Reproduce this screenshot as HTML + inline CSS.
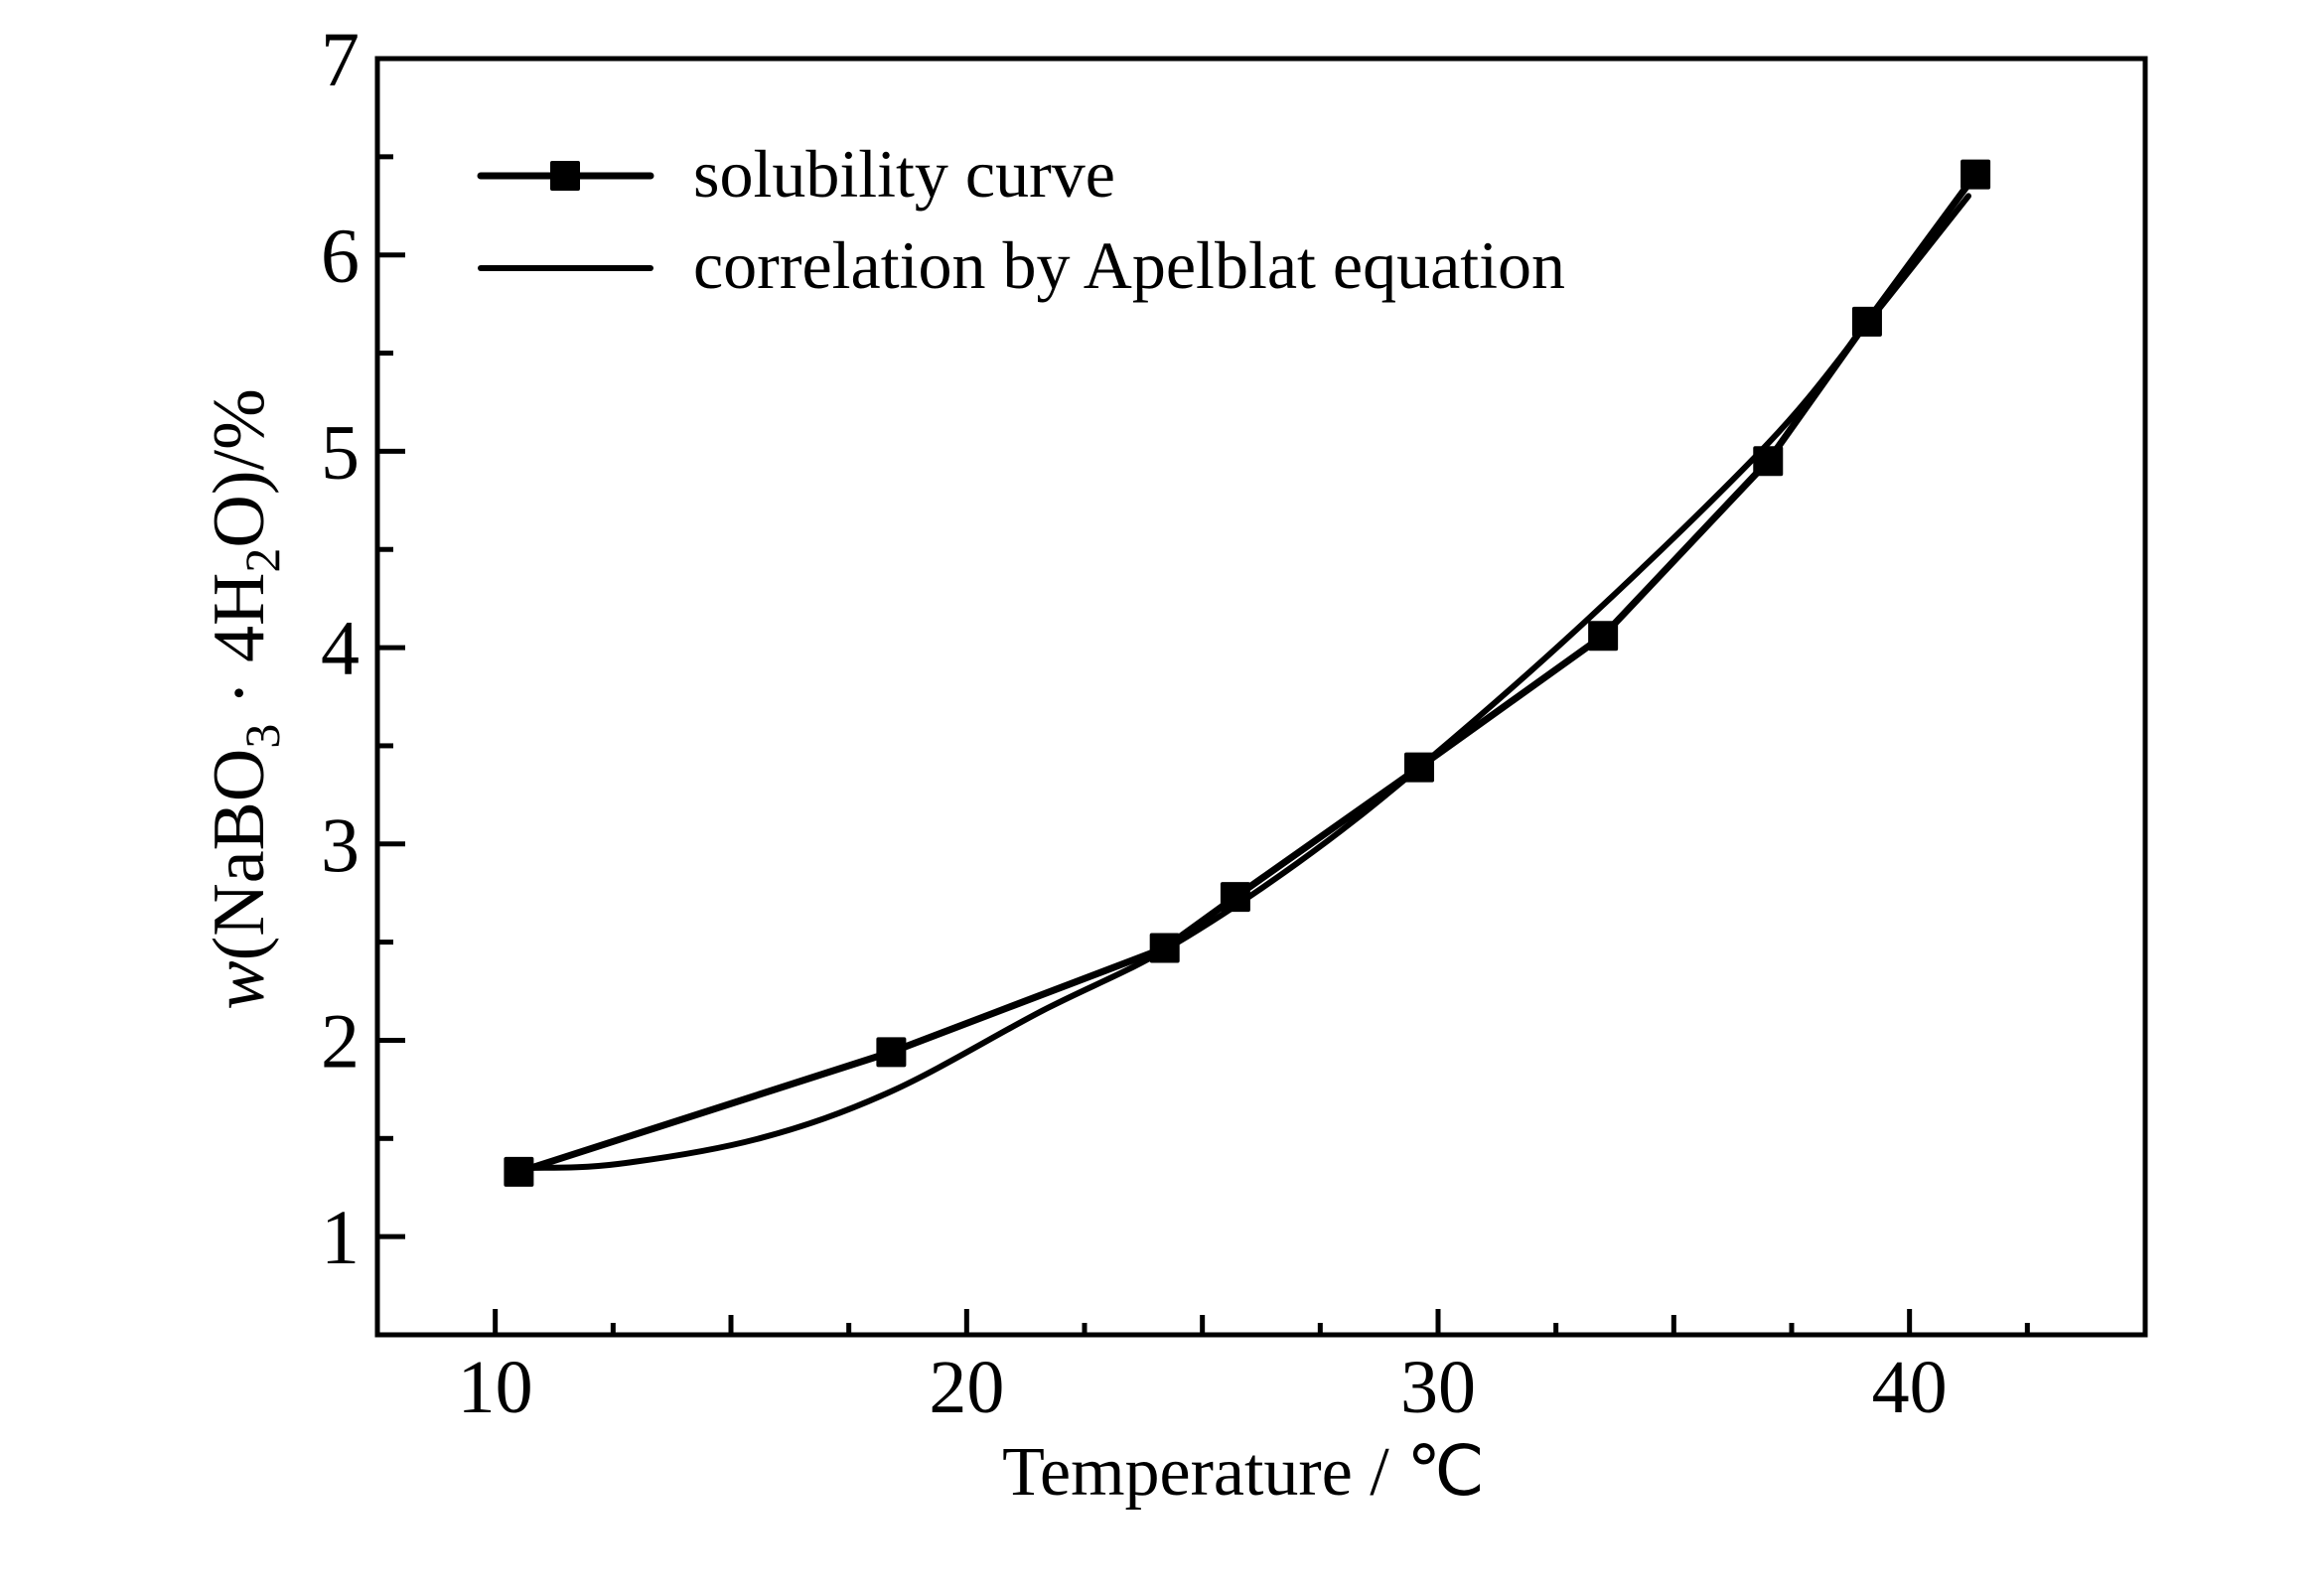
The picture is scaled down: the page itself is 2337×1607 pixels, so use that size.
<!DOCTYPE html>
<html><head><meta charset="utf-8"><style>
html,body{margin:0;padding:0;background:#fff;}
svg{display:block;}
text{font-family:"Liberation Serif","Times New Roman",serif;fill:#000;}
</style></head><body>
<svg id="chart" width="2337" height="1607" viewBox="0 0 2337 1607" xmlns="http://www.w3.org/2000/svg">
<g id="axes"></g>
<g id="series"></g>
<g id="legend">
  <line x1="484" y1="177" x2="554" y2="177" stroke="#000" stroke-width="7" stroke-linecap="round"/>
  <line x1="584" y1="177" x2="655" y2="177" stroke="#000" stroke-width="7" stroke-linecap="round"/>
  <rect x="554" y="162" width="30" height="30" rx="2" fill="#000"/>
  <text x="698" y="198" font-size="68">solubility curve</text>
  <line x1="484" y1="270" x2="655" y2="270" stroke="#000" stroke-width="6" stroke-linecap="round"/>
  <text x="698" y="290" font-size="68">correlation by Apelblat equation</text>
</g>
<text x="1252" y="1505" font-size="70" text-anchor="middle">Temperature / ℃</text>
<text transform="translate(265,704) rotate(-90)" font-size="74" text-anchor="middle"><tspan font-style="italic">w</tspan>(NaBO<tspan font-size="50" dy="16">3</tspan><tspan dy="-16"> · 4H</tspan><tspan font-size="50" dy="16">2</tspan><tspan dy="-16">O)/%</tspan></text>
</svg>
<script>
const tempC = [10.5, 18.4, 24.2, 25.7, 29.6, 33.5, 37.0, 39.1, 41.4];
const solubility = [1.33, 1.94, 2.47, 2.73, 3.39, 4.06, 4.95, 5.66, 6.41];
const fitT = [10.7, 12.6, 15.6, 18.4, 21.6, 24.2, 27.0, 29.6, 33.2, 37.0, 39.1, 41.25];
const fitW = [1.35, 1.37, 1.50, 1.74, 2.15, 2.46, 2.90, 3.39, 4.15, 5.04, 5.65, 6.30];
const xTicks = [10, 20, 30, 40];
const xTickLabels = ["10", "20", "30", "40"];
const yTicks = [1, 2, 3, 4, 5, 6, 7];
const yTickLabels = ["1", "2", "3", "4", "5", "6", "7"];

const L=380,R=2160,T=59,B=1344,x0=7.5,x1=45,y0=0.5,y1=7;
const sx=v=>L+(v-x0)/(x1-x0)*(R-L);
const sy=v=>B-(v-y0)/(y1-y0)*(B-T);
const NS="http://www.w3.org/2000/svg";
function mk(tag,attrs,parent){const e=document.createElementNS(NS,tag);for(const k in attrs)e.setAttribute(k,attrs[k]);parent.appendChild(e);return e;}
const axes=document.getElementById('axes'), series=document.getElementById('series');

const frame=mk('rect',{x:L,y:T,width:R-L,height:B-T,fill:'none',stroke:'#000','stroke-width':5},axes);



for(let v=7.5; v<=45.01; v+=2.5){
  if(v<=x0+0.01||v>=x1-0.01) continue;
  const major=xTicks.includes(v), mid=(v%5===0);
  const len=major?26:(mid?20:12);
  const t=mk('line',{x1:sx(v),x2:sx(v),y1:B,y2:B-len,stroke:'#000','stroke-width':5},axes);
  
  
}
xTicks.forEach((v,i)=>{
  const t=mk('text',{x:sx(v),y:1422,'font-size':76,'text-anchor':'middle'},axes);
  t.textContent=xTickLabels[i];
  
  
});
for(let v=1; v<7; v+=0.5){
  const major=Number.isInteger(v);
  const t=mk('line',{x1:L,x2:L+(major?28:16),y1:sy(v),y2:sy(v),stroke:'#000','stroke-width':5},axes);
  
  
}
yTicks.forEach((v,i)=>{
  const t=mk('text',{x:362,y:sy(v)+27,'font-size':78,'text-anchor':'end'},axes);
  t.textContent=yTickLabels[i];
  
  
});

const P=fitT.map((t,i)=>[sx(t),sy(fitW[i])]);
let d='M'+P[0][0]+','+P[0][1];
for(let i=0;i<P.length-1;i++){
  const p0=P[i-1]||P[i],p1=P[i],p2=P[i+1],p3=P[i+2]||P[i+1];
  const c1=[p1[0]+(p2[0]-p0[0])/6,p1[1]+(p2[1]-p0[1])/6];
  const c2=[p2[0]-(p3[0]-p1[0])/6,p2[1]-(p3[1]-p1[1])/6];
  d+=` C${c1[0]},${c1[1]} ${c2[0]},${c2[1]} ${p2[0]},${p2[1]}`;
}
const fit=mk('path',{d:d,fill:'none',stroke:'#000','stroke-width':6,'stroke-linecap':'round'},series);



const pts=tempC.map((t,i)=>[sx(t),sy(solubility[i])]);
const line=mk('polyline',{points:pts.map(p=>p.join(',')).join(' '),fill:'none',stroke:'#000','stroke-width':7,'stroke-linejoin':'round'},series);


pts.forEach(p=>{
  const m=mk('rect',{x:p[0]-15,y:p[1]-15,width:30,height:30,rx:2,fill:'#000'},series);
  
  
});
</script>
</body></html>
